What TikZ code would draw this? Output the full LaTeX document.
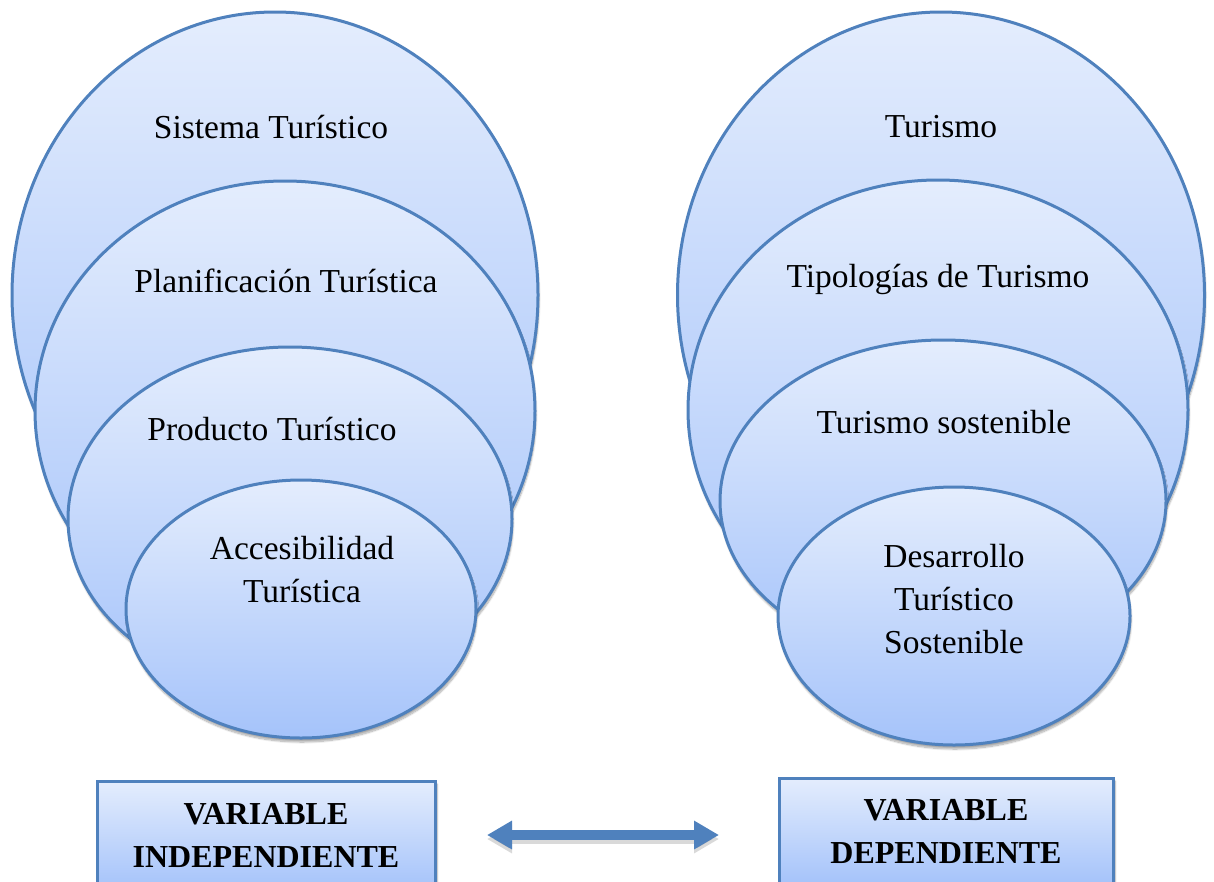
\documentclass[tikz,border=0pt]{standalone}
\usepackage{fontspec}
\setmainfont{Liberation Serif}
\usetikzlibrary{shapes.geometric,arrows.meta,shadows.blur}
\definecolor{edge}{RGB}{79,129,189}
\definecolor{topc}{RGB}{228,237,253}
\definecolor{botc}{RGB}{165,195,250}
\tikzset{
  oval/.style={ellipse, draw=edge, line width=3pt, top color=topc, bottom color=botc,
    inner sep=0pt, blur shadow={shadow xshift=1pt, shadow yshift=-4pt, shadow opacity=35, shadow blur steps=10}},
  lbl/.style={font=\fontsize{33.5}{43}\selectfont, align=center, inner sep=0pt, text=black},
  varbox/.style={rectangle, draw=edge, line width=3pt, top color=topc, bottom color=botc,
    align=center, font=\fontsize{32}{43}\selectfont\bfseries,
    blur shadow={shadow xshift=2pt, shadow yshift=-3pt, shadow opacity=35, shadow blur steps=8}},
  twoarrow/.style={draw=edge, line width=10pt, {Triangle[width=27pt,length=25pt]}-{Triangle[width=27pt,length=25pt]}}
}
\begin{document}
\begin{tikzpicture}[x=1pt,y=-1pt]
\useasboundingbox (0,0) rectangle (1214,881);
\clip (0,0) rectangle (1214,881);
% left group
\node[oval, minimum width=526pt, minimum height=566pt] (e1) at (275,295) {};
\node[oval, minimum width=500pt, minimum height=460pt] (e2) at (285,411) {};
\node[oval, minimum width=444pt, minimum height=344pt] (e3) at (290,519) {};
\node[oval, minimum width=350pt, minimum height=258pt] (e4) at (301,609) {};
\node[lbl] (t1) at (271,127) {Sistema Turístico};
\node[lbl] (t2) at (286,281) {Planificación Turística};
\node[lbl] (t3) at (272,429) {Producto Turístico};
\node[lbl] (t4) at (302,570) {Accesibilidad\\Turística};
% right group
\node[oval, minimum width=527pt, minimum height=566pt] (f1) at (941,295) {};
\node[oval, minimum width=500pt, minimum height=460pt] (f2) at (938,410) {};
\node[oval, minimum width=446pt, minimum height=322pt] (f3) at (943,501) {};
\node[oval, minimum width=352pt, minimum height=258pt] (f4) at (954,616) {};
\node[lbl] (s1) at (941,127) {Turismo};
\node[lbl] (s2) at (938,279) {Tipologías de Turismo};
\node[lbl] (s3) at (944,422) {Turismo sostenible};
\node[lbl] (s4) at (954,599) {Desarrollo\\Turístico\\Sostenible};
% variable boxes
\node[varbox, minimum width=338pt, minimum height=108pt] (vi) at (266,835) {VARIABLE\\INDEPENDIENTE};
\node[varbox, minimum width=334pt, minimum height=106pt] (vd) at (946,831) {VARIABLE\\DEPENDIENTE};
% double arrow
\coordinate (aL) at (487,835);
\coordinate (aR) at (719,835);
\draw[twoarrow, draw=black, opacity=0.15, transform canvas={yshift=-4pt}] (aL) -- (aR);
\draw[twoarrow] (aL) -- (aR);
\end{tikzpicture}
\end{document}
